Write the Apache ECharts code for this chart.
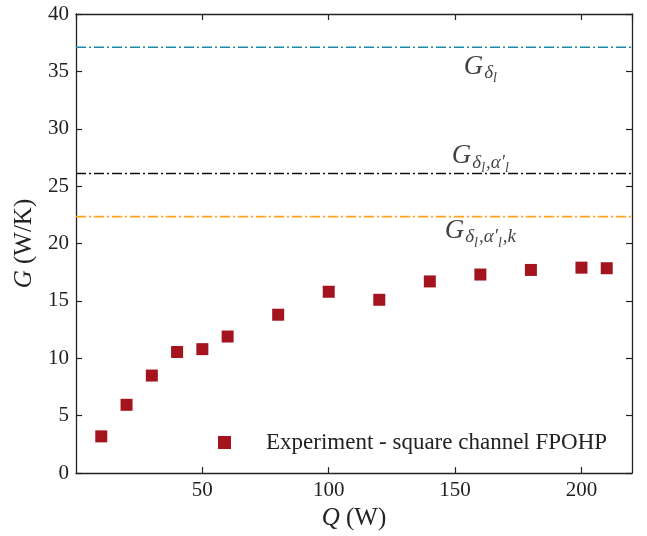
<!DOCTYPE html>
<html>
<head>
<meta charset="utf-8">
<script src="https://cdn.jsdelivr.net/npm/echarts@6/dist/echarts.min.js"></script>
<style>html,body{margin:0;padding:0;background:#fff}#c{width:647px;height:536px}</style>
</head>
<body>
<div id="c"></div>
<script>
// Experimental data
const Q = [10, 20, 30, 40, 50, 60, 80, 100, 120, 140, 160, 180, 200, 210];
const G = [3.2, 5.95, 8.5, 10.55, 10.8, 11.9, 13.8, 15.8, 15.1, 16.7, 17.3, 17.7, 17.9, 17.85];
// Model reference levels
const refNames = ['G_dl', 'G_dl_al', 'G_dl_al_k'];
const refValues = [37.1, 26.1, 22.35];
const refColors = ['#1b8aa5', '#111111', '#ffa31a'];
// Annotation labels (position in data coordinates)
const annoQ = [160, 160, 160];
const annoG = [35.4, 27.6, 21.1];
const annoText = [
  '{G|G}{s|δ}{ss|l}',
  '{G|G}{s|δ}{ss|l}{s|,α′}{ss|l}',
  '{G|G}{s|δ}{ss|l}{s|,α′}{ss|l}{s|,k}'
];
const xTicks = [0, 50, 100, 150, 200];
const yTicks = [0, 5, 10, 15, 20, 25, 30, 35, 40];

const font = 'Liberation Serif';
const axisColor = '#222';
const richStyles = {
  G: {fontFamily: font, fontStyle: 'italic', fontSize: 27, color: '#111'},
  s: {fontFamily: font, fontStyle: 'italic', fontSize: 19, color: '#111', padding: [13, 0, 0, 1]},
  ss: {fontFamily: font, fontStyle: 'italic', fontSize: 14, color: '#111', padding: [24, 0, 0, 0]}
};

const chart = echarts.init(document.getElementById('c'), null, {renderer: 'canvas'});

const refSeries = refValues.map((v, i) => ({
  name: refNames[i],
  type: 'line',
  data: [[0, v], [220, v]],
  symbol: 'none',
  silent: true,
  lineStyle: {color: refColors[i], width: 1.6, type: [10, 3, 2, 3]},
  z: 2
}));

const baseX = {
  type: 'value', min: 0, max: 220, interval: 50,
  axisLine: {show: true, onZero: false, lineStyle: {color: axisColor, width: 1.3}},
  axisTick: {show: true, inside: true, length: 6, lineStyle: {color: axisColor, width: 1.2}},
  splitLine: {show: false}
};
const baseY = {
  type: 'value', min: 0, max: 40, interval: 5,
  axisLine: {show: true, onZero: false, lineStyle: {color: axisColor, width: 1.3}},
  axisTick: {show: true, inside: true, length: 6, lineStyle: {color: axisColor, width: 1.2}},
  splitLine: {show: false}
};

chart.setOption({
  animation: false,
  backgroundColor: '#fff',
  grid: {left: 76, right: 15, top: 14, bottom: 62, containLabel: false},
  legend: {
    data: ['Experiment - square channel FPOHP'],
    left: 213, top: 426,
    itemWidth: 13, itemHeight: 13,
    textStyle: {fontFamily: font, fontSize: 23, color: '#222', padding: [0, 0, 0, 30]}
  },
  xAxis: [
    Object.assign({}, baseX, {
      position: 'bottom',
      name: '{i|Q} (W)',
      nameLocation: 'middle', nameGap: 30,
      nameTextStyle: {fontFamily: font, fontSize: 25, color: '#222',
        rich: {i: {fontFamily: font, fontStyle: 'italic', fontSize: 25, color: '#222'}}},
      axisLabel: {fontFamily: font, fontSize: 21, color: '#222', margin: 7,
        showMinLabel: false, showMaxLabel: false,
        formatter: v => xTicks.indexOf(v) >= 0 ? String(v) : ''}
    }),
    Object.assign({}, baseX, {position: 'top', axisLabel: {show: false}})
  ],
  yAxis: [
    Object.assign({}, baseY, {
      position: 'left',
      name: '{i|G} (W/K)',
      nameLocation: 'middle', nameGap: 32, nameRotate: 90,
      nameTextStyle: {fontFamily: font, fontSize: 25, color: '#222',
        rich: {i: {fontFamily: font, fontStyle: 'italic', fontSize: 25, color: '#222'}}},
      axisLabel: {fontFamily: font, fontSize: 21, color: '#222', margin: 7,
        formatter: v => yTicks.indexOf(v) >= 0 ? String(v) : ''}
    }),
    Object.assign({}, baseY, {position: 'right', axisLabel: {show: false}})
  ],
  series: refSeries.concat([
    {
      name: 'Experiment - square channel FPOHP',
      type: 'scatter',
      symbol: 'rect',
      symbolSize: 12,
      itemStyle: {color: '#a3141f', opacity: 1},
      data: Q.map((q, i) => [q, G[i]]),
      z: 5
    },
    {
      name: 'annotations',
      type: 'scatter',
      symbolSize: 0,
      silent: true,
      data: annoQ.map((q, i) => ({value: [q, annoG[i]], label: {formatter: annoText[i]}})),
      label: {show: true, position: 'inside', align: 'center', verticalAlign: 'middle', rich: richStyles},
      z: 6
    }
  ])
});
</script>
</body>
</html>
